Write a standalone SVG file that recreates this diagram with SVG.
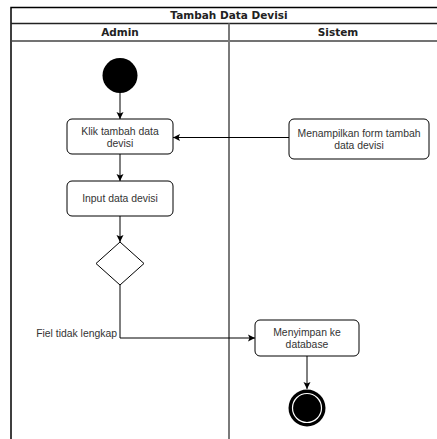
<svg xmlns="http://www.w3.org/2000/svg" width="437" height="439" viewBox="0 0 437 439">
  <style>
    .lane { fill: none; stroke: #000; stroke-width: 1.5; }
    .divider { stroke: #7a7a7a; stroke-width: 2; }
    .hdr { font-family: "DejaVu Sans", Verdana, sans-serif; font-weight: bold; font-size: 10.5px; fill: #222; text-anchor: middle; }
    .act { fill: #fff; stroke: #000; stroke-width: 1; }
    .lbl { font-family: "Liberation Sans", Arial, sans-serif; font-size: 10.4px; fill: #333; text-anchor: middle; }
    .edge { fill: none; stroke: #000; stroke-width: 1; marker-end: url(#arrow); }
  </style>
  <defs>
    <marker id="arrow" markerWidth="8" markerHeight="8" refX="7" refY="4" orient="auto" markerUnits="userSpaceOnUse">
      <path d="M0,0.5 L7,4 L0,7.5 L1.5,4 Z" fill="#000"/>
    </marker>
  </defs>
  <rect width="437" height="439" fill="#fff"/>

  <!-- swimlane frame -->
  <g id="pool">
    <path class="lane" d="M11,439 V7.5 H437"/>
    <line x1="11" y1="23.5" x2="437" y2="23.5" stroke="#222" stroke-width="1.5"/>
    <line x1="11" y1="41" x2="437" y2="41" stroke="#444" stroke-width="1.5"/>
    <line class="divider" x1="229" y1="23.5" x2="229" y2="439"/>
    <text class="hdr" x="229" y="19">Tambah Data Devisi</text>
    <text class="hdr" x="120" y="36">Admin</text>
    <text class="hdr" x="338" y="36">Sistem</text>
  </g>

  <!-- connectors -->
  <g id="connectors">
    <line class="edge" x1="120" y1="92" x2="120" y2="119"/>
    <line class="edge" x1="120" y1="154" x2="120" y2="181"/>
    <line class="edge" x1="289" y1="137.5" x2="173" y2="137.5"/>
    <line class="edge" x1="120" y1="216" x2="120" y2="242"/>
    <polyline class="edge" points="120,285 120,338 255,338"/>
    <line class="edge" x1="307" y1="356" x2="307" y2="389"/>
    <text class="lbl" x="117" y="337" style="text-anchor:end">Fiel tidak lengkap</text>
  </g>

  <g id="start">
    <circle cx="120" cy="75.5" r="17.5" fill="#000"/>
  </g>

  <g id="klik-tambah">
    <rect class="act" x="67" y="119" width="106" height="35" rx="5"/>
    <text class="lbl" x="120" y="134.5">Klik tambah data</text>
    <text class="lbl" x="120" y="146.5">devisi</text>
  </g>

  <g id="input-data">
    <rect class="act" x="67" y="181" width="106" height="35" rx="5"/>
    <text class="lbl" x="120" y="202">Input data devisi</text>
  </g>

  <g id="tampil-form">
    <rect class="act" x="289" y="119" width="140" height="40" rx="5"/>
    <text class="lbl" x="359" y="136.5">Menampilkan form tambah</text>
    <text class="lbl" x="359" y="148.5">data devisi</text>
  </g>

  <g id="decision">
    <polygon class="act" points="120,242 144,263.5 120,285 96,263.5"/>
  </g>

  <g id="simpan">
    <rect class="act" x="255" y="320" width="104" height="36" rx="5"/>
    <text class="lbl" x="307" y="335.5">Menyimpan ke</text>
    <text class="lbl" x="307" y="347.5">database</text>
  </g>

  <g id="end">
    <circle cx="307" cy="408" r="18.5" fill="#000"/>
    <circle cx="307" cy="408" r="14.5" fill="#000" stroke="#fff" stroke-width="1.2"/>
  </g>
</svg>
